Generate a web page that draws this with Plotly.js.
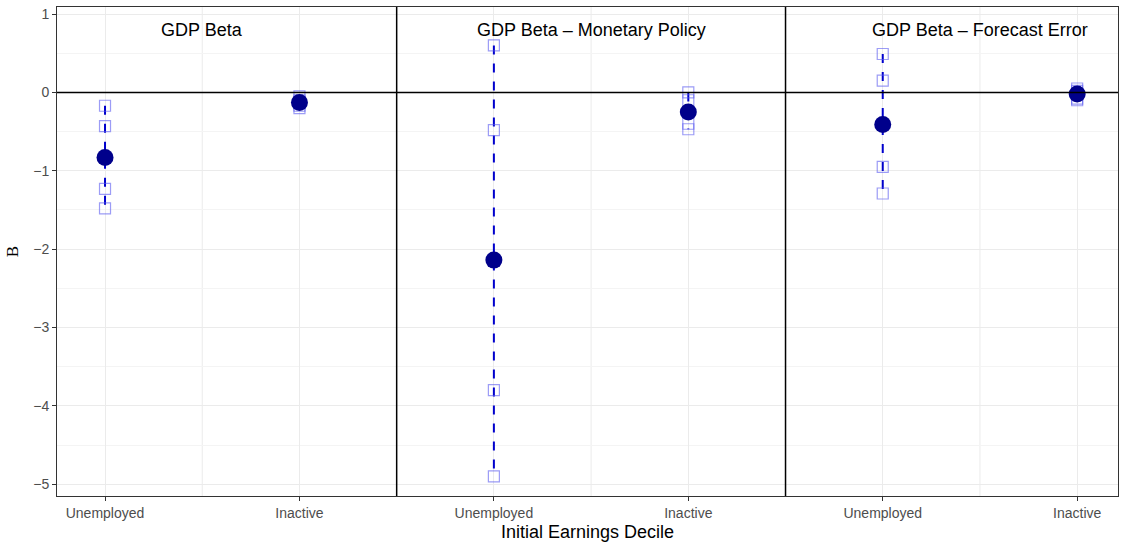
<!DOCTYPE html><html><head><script src="https://cdn.plot.ly/plotly-3.0.1.min.js"></script></head><body style="margin:0">
<div id="c" style="width:1124px;height:548px"></div>
<script>
const tickLabels=["Unemployed","Inactive","Unemployed","Inactive","Unemployed","Inactive"];
const xPos=[0,1,2,3,4,5];
const estimates=[-0.83,-0.13,-2.14,-0.25,-0.41,-0.02];
const outerHi=[-0.17,-0.05,0.60,0.00,0.49,0.05];
const innerHi=[-0.43,-0.10,-0.48,-0.10,0.15,0.02];
const innerLo=[-1.23,-0.17,-3.80,-0.40,-0.95,-0.08];
const outerLo=[-1.48,-0.20,-4.90,-0.47,-1.29,-0.10];
const panelTitles=["GDP Beta","GDP Beta – Monetary Policy","GDP Beta – Forecast Error"];
const traces=[];
xPos.forEach((x,i)=>{traces.push({x:[x,x],y:[outerHi[i],outerLo[i]],mode:'lines',line:{color:'#0000cc',dash:'dash',width:2},showlegend:false,hoverinfo:'skip'});});
const sx=[],sy=[];
xPos.forEach((x,i)=>{[outerHi,innerHi,innerLo,outerLo].forEach(a=>{sx.push(x);sy.push(a[i]);});});
traces.push({x:sx,y:sy,mode:'markers',marker:{symbol:'square-open',size:11,color:'rgba(90,90,240,0.6)',line:{width:1.2}},showlegend:false});
traces.push({x:xPos,y:estimates,mode:'markers',marker:{size:17,color:'#00008b'},showlegend:false});
const shapes=[{type:'line',xref:'paper',x0:0,x1:1,yref:'y',y0:0,y1:0,line:{color:'black',width:1.5}}];
[1.5,3.5].forEach(v=>shapes.push({type:'line',x0:v,x1:v,yref:'paper',y0:0,y1:1,line:{color:'black',width:1.5}}));
[0.5,2.5,4.5].forEach(v=>shapes.push({type:'line',x0:v,x1:v,yref:'paper',y0:0,y1:1,layer:'below',line:{color:'#ebebeb',width:1}}));
const annotations=panelTitles.map((t,i)=>({x:0.5+2*i,y:0.8,text:t,showarrow:false,font:{family:'Liberation Sans, Arial',size:18,color:'black'}}));
Plotly.newPlot('c',traces,{
 width:1124,height:548,margin:{l:57,r:6,t:7,b:52},paper_bgcolor:'white',plot_bgcolor:'white',
 font:{family:'Liberation Sans, Arial',color:'#4d4d4d',size:14},
 xaxis:{range:[-0.247,5.21],tickvals:xPos,ticktext:tickLabels,showgrid:true,gridcolor:'#ebebeb',zeroline:false,showline:true,mirror:true,linecolor:'#333',ticks:'outside',ticklen:4,tickcolor:'#333',
  title:{text:'Initial Earnings Decile',font:{size:18,color:'black'},standoff:5}},
 yaxis:{range:[-5.15,1.09],dtick:1,showgrid:true,gridcolor:'#ebebeb',zeroline:false,showline:true,mirror:true,linecolor:'#333',ticks:'outside',ticklen:4,tickcolor:'#333',
  minor:{dtick:0.5,showgrid:true,gridcolor:'#f4f4f4'},tickformat:'d',
  title:{text:'B',font:{family:'Liberation Serif',size:17,color:'black'},standoff:10}},
 shapes,annotations
},{staticPlot:true});
</script></body></html>
